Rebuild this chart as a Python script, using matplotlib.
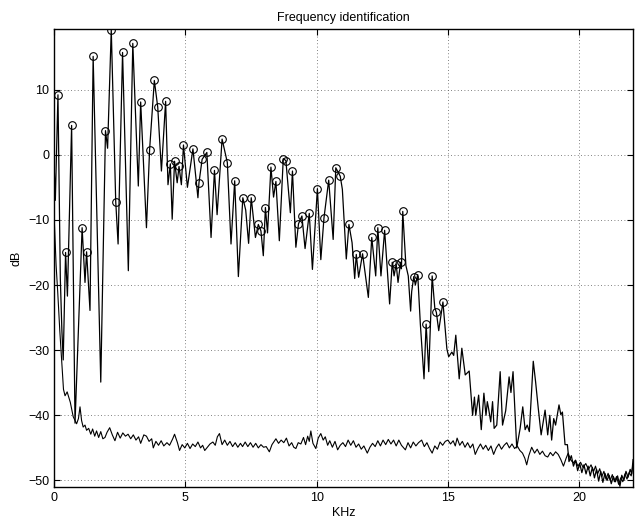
import matplotlib
matplotlib.use("Agg")
import matplotlib.pyplot as plt
import numpy as np

# spectrum of the analysed frame (KHz, dB)
spectrum = [
    (0.00, -1.0), (0.05, -7.0), (0.15, 9.2), (0.24, -19.0), (0.30, -27.0), (0.35, -31.5),
    (0.44, -15.0), (0.51, -21.7), (0.67, 4.5), (0.80, -41.2), (1.07, -11.2), (1.18, -19.6),
    (1.24, -14.9), (1.37, -23.9), (1.49, 15.1), (1.78, -34.9), (1.96, 3.7), (2.04, 1.0),
    (2.18, 19.2), (2.35, -7.2), (2.44, -13.7), (2.61, 15.7), (2.83, -17.8), (3.00, 17.1),
    (3.21, -4.8), (3.30, 8.1), (3.52, -11.2), (3.64, 0.8), (3.82, 11.4), (3.95, 7.3),
    (4.09, -2.5), (4.25, 8.2), (4.34, -4.6), (4.43, -1.4), (4.50, -9.9), (4.59, -1.0),
    (4.69, -4.3), (4.76, -1.8), (4.85, -4.6), (4.93, 1.5), (5.08, -5.0), (5.29, 0.9),
    (5.48, -6.6), (5.52, -4.3), (5.64, -0.7), (5.82, 0.35), (5.98, -12.7), (6.11, -2.4),
    (6.21, -9.2), (6.40, 2.4), (6.60, -1.2), (6.74, -13.7), (6.88, -4.0), (7.02, -18.7),
    (7.19, -6.6), (7.30, -8.5), (7.41, -13.6), (7.51, -6.6), (7.67, -12.7), (7.78, -10.7),
    (7.88, -11.7), (7.97, -15.5), (8.05, -8.1), (8.13, -12.0), (8.26, -1.9), (8.36, -6.5),
    (8.45, -4.1), (8.58, -13.2), (8.73, -0.6), (8.83, -0.9), (9.00, -8.9), (9.08, -2.5),
    (9.21, -14.2), (9.31, -10.6), (9.44, -9.4), (9.56, -14.4), (9.72, -9.0), (9.84, -17.6),
    (10.03, -5.2), (10.16, -16.1), (10.28, -9.7), (10.46, -3.9), (10.63, -13.0), (10.73, -2.0),
    (10.90, -3.3), (10.98, -5.3), (11.13, -16.0), (11.23, -10.7), (11.35, -13.5), (11.45, -19.0),
    (11.51, -15.3), (11.60, -18.8), (11.75, -15.2), (11.97, -21.9), (12.10, -12.7), (12.25, -18.6),
    (12.33, -11.2), (12.45, -18.6), (12.59, -11.6), (12.78, -22.9), (12.88, -16.5), (12.95, -18.6),
    (13.03, -16.8), (13.10, -19.6), (13.20, -16.5), (13.23, -17.5), (13.28, -8.7), (13.40, -17.0),
    (13.49, -18.6), (13.58, -24.0), (13.62, -21.0), (13.70, -18.7), (13.76, -20.0), (13.85, -18.4),
    (13.95, -26.0), (14.09, -34.4), (14.17, -26.0), (14.27, -33.3), (14.40, -18.6), (14.50, -23.5),
    (14.56, -24.2), (14.65, -27.0), (14.81, -22.6), (14.96, -29.8), (15.03, -31.0), (15.15, -30.3),
    (15.22, -30.8), (15.30, -27.7), (15.43, -34.4), (15.53, -29.7), (15.66, -33.8), (15.81, -33.2),
    (15.94, -40.0), (16.01, -37.2), (16.06, -40.0), (16.17, -36.9), (16.27, -42.2), (16.37, -36.6),
    (16.45, -40.0), (16.50, -37.9), (16.55, -39.0), (16.63, -41.0), (16.70, -37.9), (16.76, -42.0),
    (16.86, -41.5), (16.99, -33.3), (17.08, -41.5), (17.20, -39.3), (17.33, -34.1), (17.40, -36.5),
    (17.48, -33.3), (17.62, -45.0), (17.75, -42.0), (17.85, -38.7), (17.94, -42.2), (18.02, -41.5),
    (18.10, -42.5), (18.25, -31.7), (18.34, -34.9), (18.44, -38.9), (18.55, -43.0), (18.70, -39.2),
    (18.80, -43.0), (18.88, -40.0), (18.95, -43.8), (19.03, -40.5), (19.10, -41.5), (19.23, -38.4),
    (19.30, -39.9), (19.36, -39.5), (19.46, -44.5), (19.55, -44.5), (19.61, -47.1), (19.70, -46.2),
    (19.78, -47.8), (19.86, -46.9), (19.94, -48.5), (20.02, -47.4), (20.10, -48.8), (20.18, -47.6),
    (20.26, -49.0), (20.34, -47.8), (20.42, -49.3), (20.50, -48.0), (20.58, -49.6), (20.66, -48.3),
    (20.74, -50.1), (20.82, -48.6), (20.90, -50.3), (20.98, -48.9), (21.06, -50.0), (21.14, -49.2),
    (21.22, -50.5), (21.30, -49.4), (21.38, -50.2), (21.46, -49.3), (21.55, -50.9), (21.62, -49.2),
    (21.70, -50.0), (21.78, -48.6), (21.86, -49.5), (21.94, -48.3), (22.00, -49.0), (22.05, -46.8),
]

# identified peaks (circles)
peaks = [
    (0.15, 9.2), (0.44, -15.0), (0.67, 4.5), (1.07, -11.2), (1.24, -14.9), (1.49, 15.1),
    (1.96, 3.7), (2.18, 19.2), (2.35, -7.2), (2.61, 15.7), (3.00, 17.1), (3.30, 8.1),
    (3.64, 0.8), (3.82, 11.4), (3.95, 7.3), (4.25, 8.2), (4.43, -1.4), (4.59, -1.0),
    (4.76, -1.8), (4.93, 1.5), (5.29, 0.9), (5.52, -4.3), (5.64, -0.7), (5.82, 0.35),
    (6.11, -2.4), (6.40, 2.4), (6.60, -1.2), (6.88, -4.0), (7.19, -6.6), (7.51, -6.6),
    (7.78, -10.7), (7.88, -11.7), (8.05, -8.1), (8.26, -1.9), (8.45, -4.1), (8.73, -0.6),
    (8.83, -0.9), (9.08, -2.5), (9.31, -10.6), (9.44, -9.4), (9.72, -9.0), (10.03, -5.2),
    (10.28, -9.7), (10.46, -3.9), (10.73, -2.0), (10.90, -3.3), (11.23, -10.7), (11.51, -15.3),
    (11.75, -15.2), (12.10, -12.7), (12.33, -11.2), (12.59, -11.6), (12.88, -16.5), (13.03, -16.8),
    (13.20, -16.5), (13.28, -8.7), (13.70, -18.7), (13.85, -18.4), (14.17, -26.0), (14.40, -18.6),
    (14.56, -24.2), (14.81, -22.6),
]

# noise floor estimate
floor = [
    (0.00, -9.0), (0.08, -17.0), (0.14, -21.0), (0.22, -27.0), (0.30, -32.0), (0.36, -36.0),
    (0.42, -37.0), (0.50, -36.4), (0.56, -37.2), (0.62, -38.0), (0.73, -40.2), (0.86, -41.3),
    (0.93, -40.5), (0.99, -38.7), (1.05, -40.8), (1.11, -41.8), (1.18, -41.5), (1.24, -42.3),
    (1.32, -42.0), (1.40, -42.9), (1.47, -42.1), (1.55, -43.2), (1.62, -42.4), (1.70, -43.4),
    (1.78, -42.5), (1.86, -43.6), (1.94, -43.4), (2.02, -42.6), (2.12, -41.9), (2.22, -43.0),
    (2.32, -43.9), (2.42, -42.6), (2.52, -43.5), (2.62, -42.7), (2.72, -43.2), (2.82, -42.9),
    (2.92, -43.6), (3.02, -43.0), (3.12, -43.8), (3.22, -43.3), (3.30, -44.3), (3.42, -43.0),
    (3.52, -43.2), (3.62, -44.0), (3.72, -43.6), (3.78, -45.0), (3.88, -44.0), (3.98, -44.6),
    (4.08, -43.9), (4.18, -44.7), (4.30, -44.2), (4.40, -44.6), (4.52, -43.6), (4.59, -42.9),
    (4.70, -44.2), (4.78, -45.4), (4.88, -44.5), (4.98, -45.0), (5.08, -44.3), (5.18, -45.1),
    (5.28, -44.4), (5.38, -44.8), (5.48, -44.1), (5.58, -45.0), (5.66, -44.6), (5.74, -45.4),
    (5.84, -44.9), (5.94, -44.4), (6.05, -44.1), (6.14, -44.6), (6.22, -43.3), (6.30, -42.8),
    (6.40, -44.5), (6.50, -43.8), (6.60, -44.6), (6.70, -44.0), (6.80, -44.8), (6.90, -44.2),
    (7.00, -44.9), (7.10, -44.3), (7.18, -44.8), (7.28, -44.1), (7.38, -44.8), (7.48, -44.2),
    (7.58, -44.9), (7.68, -44.3), (7.78, -45.0), (7.88, -44.5), (7.98, -44.9), (8.08, -44.8),
    (8.20, -45.6), (8.30, -44.5), (8.45, -43.6), (8.55, -44.3), (8.65, -43.8), (8.75, -44.2),
    (8.85, -43.5), (8.95, -44.7), (9.05, -44.2), (9.13, -44.9), (9.21, -45.1), (9.30, -44.2),
    (9.40, -44.4), (9.50, -43.4), (9.58, -44.5), (9.66, -43.2), (9.72, -44.0), (9.78, -42.4),
    (9.86, -44.3), (9.97, -45.1), (10.06, -43.5), (10.16, -42.8), (10.25, -43.8), (10.33, -43.3),
    (10.42, -44.6), (10.50, -43.9), (10.60, -44.9), (10.70, -44.0), (10.80, -45.3), (10.90, -44.6),
    (11.00, -44.2), (11.10, -44.8), (11.20, -43.8), (11.30, -44.6), (11.40, -43.9), (11.50, -44.9),
    (11.60, -44.4), (11.70, -45.2), (11.80, -44.7), (11.93, -45.8), (12.03, -44.9), (12.13, -44.3),
    (12.23, -44.8), (12.33, -43.9), (12.43, -44.7), (12.53, -43.8), (12.63, -44.5), (12.73, -43.7),
    (12.83, -44.4), (12.93, -43.8), (13.03, -44.7), (13.13, -43.8), (13.23, -44.6), (13.38, -45.3),
    (13.48, -44.2), (13.58, -45.0), (13.68, -44.1), (13.78, -44.7), (13.88, -44.2), (14.00, -43.8),
    (14.10, -44.8), (14.20, -44.2), (14.30, -45.1), (14.40, -45.8), (14.50, -44.7), (14.60, -45.2),
    (14.70, -44.1), (14.80, -44.6), (14.90, -44.0), (15.00, -43.8), (15.10, -44.4), (15.20, -43.9),
    (15.28, -44.7), (15.35, -43.5), (15.45, -44.6), (15.55, -44.0), (15.65, -44.9), (15.75, -44.2),
    (15.85, -45.0), (15.95, -44.4), (16.04, -46.0), (16.14, -45.1), (16.24, -44.4), (16.34, -45.2),
    (16.44, -44.6), (16.54, -45.4), (16.64, -44.7), (16.74, -46.0), (16.84, -45.0), (16.94, -44.4),
    (17.04, -45.2), (17.14, -44.6), (17.24, -44.2), (17.34, -45.0), (17.44, -44.4), (17.54, -45.1),
    (17.64, -44.7), (17.74, -45.4), (17.84, -45.8), (17.93, -46.6), (18.00, -47.6), (18.08, -46.2),
    (18.19, -44.9), (18.30, -45.8), (18.40, -45.2), (18.50, -46.0), (18.60, -45.5), (18.70, -46.2),
    (18.80, -46.4), (18.90, -45.7), (19.00, -46.2), (19.10, -45.6), (19.20, -46.0), (19.30, -46.8),
    (19.40, -47.8), (19.50, -46.6), (19.58, -45.8), (19.67, -46.8), (19.77, -47.3), (19.86, -46.9),
    (19.95, -47.8), (20.05, -47.2), (20.15, -48.0), (20.25, -47.4), (20.35, -48.3), (20.45, -47.6),
    (20.55, -48.6), (20.62, -47.8), (20.70, -49.0), (20.78, -48.2), (20.86, -49.4), (20.94, -48.6),
    (21.02, -49.8), (21.10, -48.9), (21.18, -50.0), (21.26, -49.1), (21.34, -50.2), (21.42, -49.4),
    (21.50, -50.6), (21.58, -49.6), (21.66, -50.2), (21.74, -49.0), (21.82, -49.8), (21.90, -48.8),
    (21.98, -49.3), (22.05, -47.5),
]

xticks = [0, 5, 10, 15, 20]
yticks = [-50, -40, -30, -20, -10, 0, 10]

plt.rcParams["font.family"] = ["Liberation Sans", "DejaVu Sans"]
plt.rcParams["font.size"] = 9

spec = np.array(spectrum)
pk = np.array(peaks)
fl = np.array(floor)

fig = plt.figure(figsize=(6.37, 5.21), dpi=100)
ax = fig.add_axes([0.0848, 0.0653, 0.909, 0.879])

ax.plot(spec[:, 0], spec[:, 1], color="black", lw=0.9)
ax.plot(fl[:, 0], fl[:, 1], color="black", lw=0.8)
ax.plot(pk[:, 0], pk[:, 1], "o", mfc="none", mec="black", ms=5.5, mew=0.8)

ax.set_xlim(0, 22.05)
ax.set_ylim(-51, 19.3)
ax.set_xticks(xticks)
ax.set_yticks(yticks)
ax.grid(True, linestyle=(0, (1, 3)), color="0.35", lw=0.6)
ax.tick_params(direction="in", top=True, right=True, length=4, width=0.8, labelsize=9)
for s in ax.spines.values():
    s.set_linewidth(1.0)

ax.set_xlabel("KHz", labelpad=2)
ax.set_ylabel("dB", labelpad=4)
ax.set_title("Frequency identification", fontsize=9, pad=6)

fig.savefig("out.png", dpi=100)
